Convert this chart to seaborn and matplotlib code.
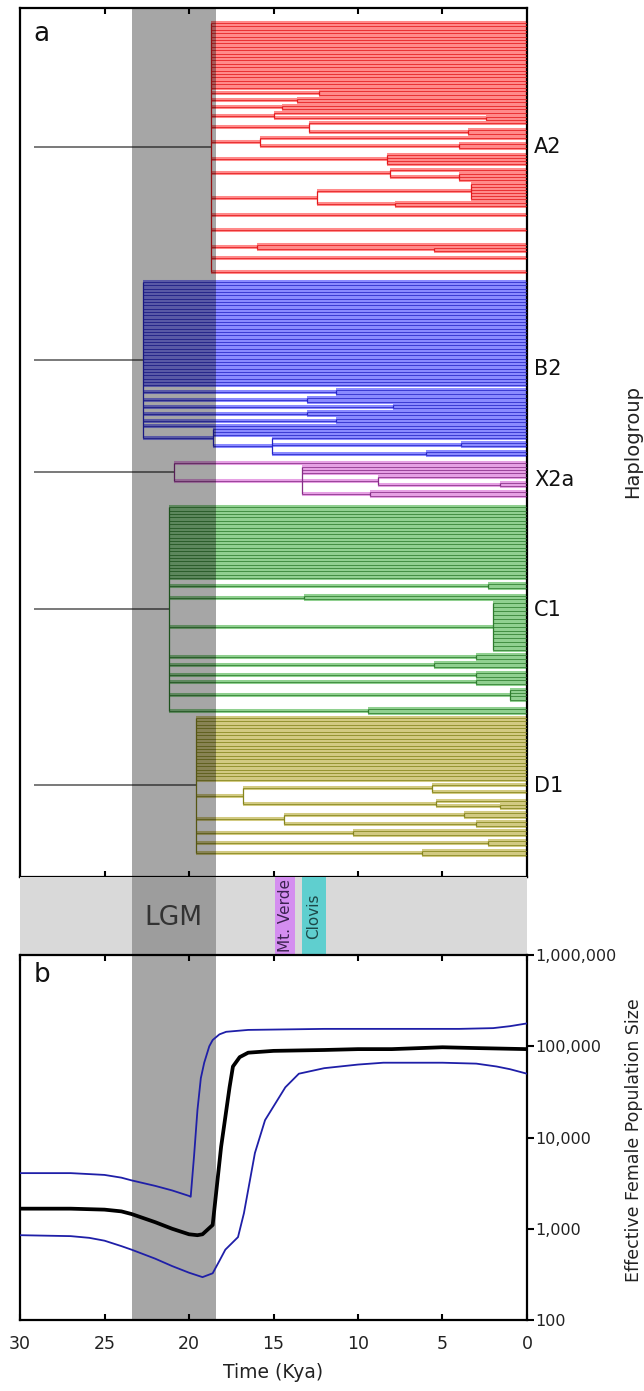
import matplotlib
matplotlib.use("Agg")
import numpy as np
import matplotlib.pyplot as plt
import matplotlib.transforms as mtransforms
from matplotlib.ticker import FixedLocator, FuncFormatter, NullLocator
import seaborn as sns

sns.set_theme(style="white")
plt.rcParams["font.family"] = ["DejaVu Sans"]

# ---------------- data ----------------
time_ticks = [30, 25, 20, 15, 10, 5, 0]
lgm_start_kya, lgm_end_kya = 23.4, 18.4
event_names = ["Mt. Verde", "Clovis"]
event_from_kya = [14.9, 13.3]
event_to_kya = [13.7, 11.9]
stem_origin_kya = 29.2

haplogroups = ["A2", "B2", "X2a", "C1", "D1"]

# tree of each haplogroup: node ages (Kya), parent node of each node,
# parent node of each tip (top to bottom) and row spacing before each tip
A2_node_kya = [18.7, 12.3, 13.6, 14.5, 15.0, 2.4, 12.9, 3.5, 15.8, 4.0, 8.3, 8.1, 4.0, 12.4, 3.3, 7.8, 16.0, 5.5]
A2_node_parent = [-1, 0, 0, 0, 0, 4, 0, 6, 0, 8, 0, 0, 11, 0, 13, 13, 0, 16]
A2_tip_parent = [0] * 20 + [1, 1, 2, 2, 3, 3, 4, 5, 5, 6, 7, 7, 8, 9, 9, 10, 10, 10, 10, 11, 12, 12, 12,
                            14, 14, 14, 14, 14, 14, 15, 15, 0, 0, 16, 17, 17, 0, 0]
A2_tip_gap = [15] + [3.4] * 19 + [3.4, 4, 4, 3, 4, 3, 4, 4, 3, 3, 7, 4, 4, 6, 4, 7, 3, 3, 3, 6, 4, 3, 3,
                                  4, 3, 3, 3, 3, 3, 4, 3, 9, 15, 15, 3, 3, 7, 14]

B2_node_kya = [22.7, 11.3, 13.0, 7.9, 13.0, 11.3, 18.6, 15.1, 3.9, 6.0]
B2_node_parent = [-1, 0, 0, 0, 0, 0, 0, 6, 7, 7]
B2_tip_parent = [0] * 32 + [1, 1, 2, 2, 3, 3, 4, 4, 5, 5, 0, 6, 6, 6, 7, 8, 8, 9, 9]
B2_tip_gap = [10] + [3.33] * 31 + [5, 4, 4, 4, 3, 3, 4, 3, 4, 3, 4, 3, 3, 3, 3, 5, 3, 6, 3]

X2a_node_kya = [20.9, 13.3, 8.8, 1.6, 9.3]
X2a_node_parent = [-1, 0, 1, 2, 1]
X2a_tip_parent = [0, 1, 1, 1, 2, 3, 3, 4, 4]
X2a_tip_gap = [8, 4, 3, 3, 4, 6, 3, 6, 4]

C1_node_kya = [21.2, 2.3, 13.2, 2.0, 3.0, 5.5, 3.0, 3.0, 1.0, 9.4]
C1_node_parent = [-1, 0, 0, 0, 0, 0, 0, 0, 0, 0]
C1_tip_parent = [0] * 22 + [1, 1, 2, 2] + [3] * 13 + [4, 4, 5, 5, 6, 6, 7, 7, 8, 8, 8, 8, 9, 9]
C1_tip_gap = [11] + [3.38] * 21 + [6, 4, 8, 3, 4] + [3.9] * 12 + [5, 4, 4, 4, 6, 4, 3, 4, 6, 3, 3, 4, 9, 4]

D1_node_kya = [19.6, 16.8, 5.6, 5.4, 1.6, 14.4, 3.7, 3.0, 10.3, 2.3, 6.2]
D1_node_parent = [-1, 0, 1, 1, 3, 0, 5, 5, 0, 0, 0]
D1_tip_parent = [0] * 19 + [2, 2, 3, 4, 4, 6, 6, 7, 7, 8, 8, 9, 9, 10, 10]
D1_tip_gap = [5] + [3.44] * 18 + [5, 7, 9, 4, 3, 5, 4, 5, 4, 5, 4, 6, 4, 6, 4]

# Bayesian skyline: effective female population size
median_kya = [30, 27, 25, 24, 23.4, 22, 21, 20, 19.5, 19.2, 18.6, 18.1, 17.6, 17.4, 17.0, 16.5, 15, 12, 10, 8, 5, 3, 0]
median_ne = [1660, 1660, 1620, 1550, 1450, 1180, 1000, 870, 850, 870, 1100, 7900, 35500, 60000, 76000, 85000,
             89000, 91000, 93000, 93000, 97500, 95500, 93000]
upper_kya = [30, 27, 26, 25, 24, 23.4, 22, 21, 20, 19.9, 19.7, 19.5, 19.3, 19.1, 18.8, 18.6, 18.2, 17.8, 16.5,
             12, 8, 4, 2, 1, 0]
upper_ne = [4070, 4070, 3980, 3890, 3630, 3390, 2950, 2630, 2290, 2240, 6300, 20000, 44700, 66000, 100000,
            117000, 135000, 144000, 151000, 155000, 155000, 155000, 158000, 166000, 178000]
lower_kya = [30, 27, 25.9, 25, 24, 23.4, 22, 21, 20, 19.2, 18.6, 18.2, 17.85, 17.1, 16.75, 16.1, 15.5, 14.3,
             13.5, 12, 10, 8.5, 5, 3, 1.8, 1, 0]
lower_ne = [850, 830, 795, 740, 645, 590, 470, 390, 330, 295, 325, 445, 590, 810, 1480, 6760, 15500, 35500,
            50000, 57500, 63000, 66000, 66000, 64500, 60000, 56000, 50000]
ne_ticks = [100, 1000, 10000, 100000, 1000000]

# ---------------- styles ----------------
clade_data = {
    "A2": (A2_node_kya, A2_node_parent, A2_tip_parent, A2_tip_gap),
    "B2": (B2_node_kya, B2_node_parent, B2_tip_parent, B2_tip_gap),
    "X2a": (X2a_node_kya, X2a_node_parent, X2a_tip_parent, X2a_tip_gap),
    "C1": (C1_node_kya, C1_node_parent, C1_tip_parent, C1_tip_gap),
    "D1": (D1_node_kya, D1_node_parent, D1_tip_parent, D1_tip_gap),
}
clade_colors = {
    "A2": ("#e3191c", "#ff8a8a"),
    "B2": ("#2525c8", "#8a8aff"),
    "X2a": ("#862d86", "#e6a0e4"),
    "C1": ("#2e7d2e", "#90d090"),
    "D1": ("#85851c", "#d2ca82"),
}
event_fill = ["#d48ef0", "#5fcfcf"]
event_text = ["#3b2250", "#1d4848"]

W, H = 644, 1391
fig = plt.figure(figsize=(W / 100, H / 100), dpi=100)


def box(x0, y0, x1, y1):
    return [x0 / W, 1 - y1 / H, (x1 - x0) / W, (y1 - y0) / H]


ax_a = fig.add_axes(box(20, 8, 527, 877))
ax_m = fig.add_axes(box(20, 877, 527, 955))
ax_b = fig.add_axes(box(20, 955, 527, 1320))

# ---------------- panel a: haplogroup trees ----------------
ax_a.set_facecolor("white")
label_tr = mtransforms.blended_transform_factory(ax_a.transAxes, ax_a.transData)
cursor = 0.0
for name in haplogroups:
    nk, npar, tpar, tgap = clade_data[name]
    line_c, halo_c = clade_colors[name]
    tip_y = cursor + np.cumsum(tgap)
    cursor = tip_y[-1]
    child_y = [[] for _ in nk]
    for y, p in zip(tip_y, tpar):
        child_y[p].append(y)
    node_y = [0.0] * len(nk)
    for i in range(len(nk) - 1, -1, -1):
        node_y[i] = 0.5 * (min(child_y[i]) + max(child_y[i]))
        if npar[i] >= 0:
            child_y[npar[i]].append(node_y[i])
    hy = list(tip_y) + [node_y[i] for i in range(1, len(nk))]
    hx0 = [nk[p] for p in tpar] + [nk[npar[i]] for i in range(1, len(nk))]
    hx1 = [0.0] * len(tip_y) + [nk[i] for i in range(1, len(nk))]
    ax_a.hlines(hy, hx0, hx1, color=halo_c, lw=2.9, zorder=2)
    ax_a.hlines(hy, hx0, hx1, color=line_c, lw=0.55, zorder=3)
    ax_a.vlines(nk, [min(c) for c in child_y], [max(c) for c in child_y], color=line_c, lw=0.9, zorder=3)
    ax_a.hlines(node_y[0], stem_origin_kya, nk[0], color="#555555", lw=1.1, zorder=3)
    ax_a.text(1.014, 0.5 * (tip_y[0] + tip_y[-1]), name, transform=label_tr, ha="left", va="center",
              fontsize=15, color="#111111", clip_on=False)

ax_a.axvspan(lgm_start_kya, lgm_end_kya, color="black", alpha=0.35, lw=0, zorder=10)
ax_a.set_xlim(30, 0)
ax_a.set_ylim(869, 0)
ax_a.set_xticks(time_ticks[1:-1])
ax_a.set_xticklabels([])
ax_a.set_yticks([])
ax_a.tick_params(axis="x", direction="in", top=True, bottom=True, length=4, width=1.5, color="black")
ax_a.text(0.026, 0.962, "a", transform=ax_a.transAxes, fontsize=19, ha="left", va="baseline", color="#111111")

# ---------------- middle band: LGM and archaeological sites ----------------
ax_m.set_facecolor("#d9d9d9")
ax_m.set_xlim(30, 0)
ax_m.set_ylim(0, 1)
ax_m.axvspan(lgm_start_kya, lgm_end_kya, color="#9d9d9d", lw=0)
for nm, t0, t1, fc, tc in zip(event_names, event_from_kya, event_to_kya, event_fill, event_text):
    ax_m.axvspan(t0, t1, color=fc, lw=0)
    ax_m.text(0.5 * (t0 + t1), 0.5, nm, rotation=90, ha="center", va="center", fontsize=11, color=tc)
ax_m.text(0.5 * (lgm_start_kya + lgm_end_kya), 0.47, "LGM", ha="center", va="center", fontsize=19,
          color="#333333")
ax_m.set_xticks([])
ax_m.set_yticks([])
for s in ax_m.spines.values():
    s.set_visible(False)

# ---------------- panel b: skyline plot ----------------
ax_b.set_facecolor("white")
ax_b.axvspan(lgm_start_kya, lgm_end_kya, color="#a6a6a6", lw=0, zorder=0)
sns.lineplot(x=upper_kya, y=upper_ne, ax=ax_b, color="#1f1fa8", lw=1.3, estimator=None, sort=False, zorder=3)
sns.lineplot(x=lower_kya, y=lower_ne, ax=ax_b, color="#1f1fa8", lw=1.3, estimator=None, sort=False, zorder=3)
sns.lineplot(x=median_kya, y=median_ne, ax=ax_b, color="black", lw=2.7, estimator=None, sort=False, zorder=4)
ax_b.set_yscale("log")
ax_b.set_xlim(30, 0)
ax_b.set_ylim(100, 1e6)
ax_b.set_xlabel("")
ax_b.set_ylabel("")
ax_b.set_xticks(time_ticks)
ax_b.set_xticklabels([str(t) for t in time_ticks])
ax_b.yaxis.tick_right()
ax_b.yaxis.set_major_locator(FixedLocator(ne_ticks))
ax_b.yaxis.set_minor_locator(NullLocator())
ax_b.yaxis.set_major_formatter(FuncFormatter(lambda v, p: f"{int(round(v)):,}"))
ax_b.tick_params(axis="y", which="major", direction="out", right=True, left=False, length=5, width=1.5,
                 labelsize=11.5, pad=1, color="black", labelcolor="#222222")
ax_b.tick_params(axis="x", direction="in", top=True, bottom=True, length=4, width=1.5, labelsize=12.5,
                 pad=11, color="black", labelcolor="#222222")
ax_b.text(0.026, 0.926, "b", transform=ax_b.transAxes, fontsize=19, ha="left", va="baseline", color="#111111")

for ax in (ax_a, ax_b):
    for s in ax.spines.values():
        s.set_visible(True)
        s.set_color("black")
        s.set_linewidth(1.6)

fig.text(633 / W, 1 - 442 / H, "Haplogroup", rotation=90, ha="center", va="center", fontsize=14, color="#222222")
fig.text(634 / W, 1 - 1140 / H, "Effective Female Population Size", rotation=90, ha="center", va="center",
         fontsize=12.5, color="#222222")
fig.text(273.5 / W, 1 - 1373 / H, "Time (Kya)", ha="center", va="center", fontsize=13.5, color="#222222")

fig.savefig("out.png", dpi=100)
